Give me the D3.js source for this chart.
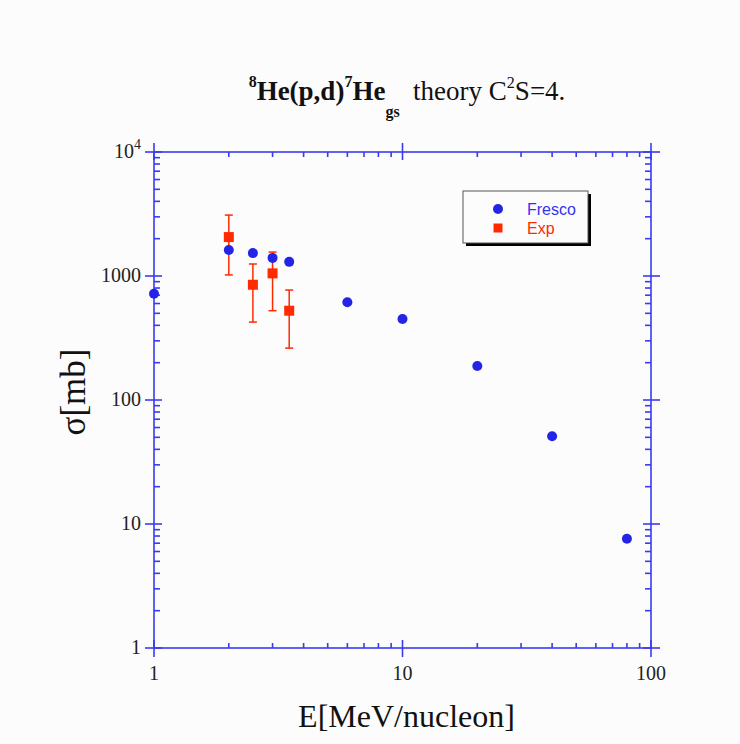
<!DOCTYPE html>
<html>
<head>
<meta charset="utf-8">
<script src="https://cdn.jsdelivr.net/npm/d3@7"></script>
<style>
  body { margin: 0; background: #fcfcfc; }
  svg { display: block; }
</style>
</head>
<body>
<div id="chart"></div>
<script>
(function () {

    // Fresco theory curve
    var frescoE = [1, 2, 2.5, 3, 3.5, 6, 10, 20, 40, 80];
    var frescoSigma = [720, 1620, 1530, 1400, 1300, 615, 450, 188, 51, 7.6];

    // experimental points with errors
    var expE = [2, 2.5, 3, 3.5];
    var expSigma = [2060, 850, 1050, 525];
    var expLow = [1020, 425, 525, 262];
    var expHigh = [3100, 1250, 1560, 770];

    var xTickLabels = ["1", "10", "100"];
    var yTickLabels = ["1", "10", "100", "1000"];

    var width = 740;
    var height = 744;
    var margin = { left: 154, right: 89, top: 152, bottom: 96 };

    var blue = "#2424e6";
    var red = "#ff2a00";
    var axisBlue = "#3a3af0";

    var svg = d3.select("#chart")
        .append("svg")
        .attr("width", width)
        .attr("height", height);

    var x = d3.scaleLog()
        .domain([1, 100])
        .range([margin.left, width - margin.right]);

    var y = d3.scaleLog()
        .domain([1, 10000])
        .range([height - margin.bottom, margin.top]);

    var x0 = x.range()[0], x1 = x.range()[1];
    var y0 = y.range()[0], y1 = y.range()[1];

    var axes = svg.append("g")
        .attr("stroke", axisBlue)
        .attr("stroke-width", 1.6);

    // frame
    axes.append("rect")
        .attr("x", x0).attr("y", y1)
        .attr("width", x1 - x0).attr("height", y0 - y1)
        .attr("fill", "none");

    // minor + major ticks on x
    var xMinor = [];
    for (var d = 1; d < 100; d *= 10) {
        for (var k = 2; k <= 9; k++) xMinor.push(d * k);
    }
    var xMajor = [1, 10, 100];

    xMinor.forEach(function (v) {
        axes.append("line").attr("x1", x(v)).attr("x2", x(v)).attr("y1", y0).attr("y2", y0 - 5);
        axes.append("line").attr("x1", x(v)).attr("x2", x(v)).attr("y1", y1).attr("y2", y1 + 5);
    });
    xMajor.forEach(function (v) {
        axes.append("line").attr("x1", x(v)).attr("x2", x(v)).attr("y1", y0 - 8).attr("y2", y0 + 9);
        axes.append("line").attr("x1", x(v)).attr("x2", x(v)).attr("y1", y1 - 9).attr("y2", y1 + 8);
    });

    var yMinor = [];
    for (var d2 = 1; d2 < 10000; d2 *= 10) {
        for (var k2 = 2; k2 <= 9; k2++) yMinor.push(d2 * k2);
    }
    var yMajor = [1, 10, 100, 1000, 10000];

    yMinor.forEach(function (v) {
        axes.append("line").attr("x1", x0).attr("x2", x0 + 6).attr("y1", y(v)).attr("y2", y(v));
        axes.append("line").attr("x1", x1).attr("x2", x1 - 6).attr("y1", y(v)).attr("y2", y(v));
    });
    yMajor.forEach(function (v) {
        axes.append("line").attr("x1", x0 - 9).attr("x2", x0 + 8).attr("y1", y(v)).attr("y2", y(v));
        axes.append("line").attr("x1", x1 - 8).attr("x2", x1 + 9).attr("y1", y(v)).attr("y2", y(v));
    });

    var serif = "'Liberation Serif', 'DejaVu Serif', serif";

    // tick labels
    svg.selectAll(".xlab")
        .data(xTickLabels)
        .enter().append("text")
        .attr("x", function (d) { return x(+d); })
        .attr("y", y0 + 32)
        .attr("text-anchor", "middle")
        .style("font-family", serif)
        .style("font-size", "20px")
        .attr("fill", "#222")
        .text(function (d) { return d; });

    svg.selectAll(".ylab")
        .data(yTickLabels)
        .enter().append("text")
        .attr("x", x0 - 13)
        .attr("y", function (d) { return y(+d) + 6; })
        .attr("text-anchor", "end")
        .style("font-family", serif)
        .style("font-size", "20px")
        .attr("fill", "#222")
        .text(function (d) { return d; });

    // 10^4 label
    var top = svg.append("text")
        .attr("x", x0 - 13)
        .attr("y", y(10000) + 6)
        .attr("text-anchor", "end")
        .style("font-family", serif)
        .style("font-size", "20px")
        .attr("fill", "#222");
    top.append("tspan").text("10");
    top.append("tspan").attr("dy", -9).style("font-size", "14px").text("4");

    // axis titles
    svg.append("text")
        .attr("x", (x0 + x1) / 2 + 4)
        .attr("y", 727)
        .attr("text-anchor", "middle")
        .style("font-family", serif)
        .style("font-size", "32px")
        .attr("fill", "#111")
        .text("E[MeV/nucleon]");

    svg.append("text")
        .attr("transform", "translate(85," + 392 + ") rotate(-90)")
        .attr("text-anchor", "middle")
        .style("font-family", serif)
        .style("font-size", "35px")
        .attr("fill", "#111")
        .text("σ[mb]");

    // title
    var title = svg.append("text")
        .attr("x", 407)
        .attr("y", 100)
        .attr("text-anchor", "middle")
        .style("font-family", serif)
        .style("font-size", "27px")
        .attr("fill", "#111");
    title.append("tspan").attr("dy", -13).style("font-size", "16px").style("font-weight", "bold").text("8");
    title.append("tspan").attr("dy", 13).style("font-weight", "bold").text("He(p,d)");
    title.append("tspan").attr("dy", -13).style("font-size", "16px").style("font-weight", "bold").text("7");
    title.append("tspan").attr("dy", 13).style("font-weight", "bold").text("He");
    title.append("tspan").attr("dy", 17).style("font-size", "16px").style("font-weight", "bold").text("gs");
    title.append("tspan").attr("dy", -17).text("\u00a0 theory C");
    title.append("tspan").attr("dy", -12).style("font-size", "16px").text("2");
    title.append("tspan").attr("dy", 12).text("S=4.");

    // error bars
    var err = svg.append("g")
        .attr("stroke", red)
        .attr("stroke-width", 1.5);

    expE.forEach(function (e, i) {
        err.append("line")
            .attr("x1", x(e)).attr("x2", x(e))
            .attr("y1", y(expLow[i])).attr("y2", y(expHigh[i]));
        err.append("line")
            .attr("x1", x(e) - 4).attr("x2", x(e) + 4)
            .attr("y1", y(expLow[i])).attr("y2", y(expLow[i]));
        err.append("line")
            .attr("x1", x(e) - 4).attr("x2", x(e) + 4)
            .attr("y1", y(expHigh[i])).attr("y2", y(expHigh[i]));
    });

    // fresco points
    svg.selectAll(".fresco")
        .data(frescoE)
        .enter().append("circle")
        .attr("cx", function (d) { return x(d); })
        .attr("cy", function (d, i) { return y(frescoSigma[i]); })
        .attr("r", 5)
        .attr("fill", blue);

    // exp points
    svg.selectAll(".exp")
        .data(expE)
        .enter().append("rect")
        .attr("x", function (d) { return x(d) - 5; })
        .attr("y", function (d, i) { return y(expSigma[i]) - 5; })
        .attr("width", 10)
        .attr("height", 10)
        .attr("fill", red);

    // legend
    var legend = svg.append("g").attr("transform", "translate(463,191)");
    legend.append("rect")
        .attr("x", 3).attr("y", 3)
        .attr("width", 125).attr("height", 52)
        .attr("fill", "#000");
    legend.append("rect")
        .attr("width", 125).attr("height", 52)
        .attr("fill", "#fcfcfc")
        .attr("stroke", "#555")
        .attr("stroke-width", 1);
    legend.append("circle")
        .attr("cx", 35).attr("cy", 18).attr("r", 5)
        .attr("fill", blue);
    legend.append("rect")
        .attr("x", 30.5).attr("y", 32.5).attr("width", 9).attr("height", 9)
        .attr("fill", red);
    legend.append("text")
        .attr("x", 64).attr("y", 24)
        .style("font-family", "'Liberation Sans', Arial, sans-serif")
        .style("font-size", "16px")
        .attr("fill", "#3333ee")
        .text("Fresco");
    legend.append("text")
        .attr("x", 64).attr("y", 43)
        .style("font-family", "'Liberation Sans', Arial, sans-serif")
        .style("font-size", "16px")
        .attr("fill", red)
        .text("Exp");

})();
</script>
</body>
</html>
